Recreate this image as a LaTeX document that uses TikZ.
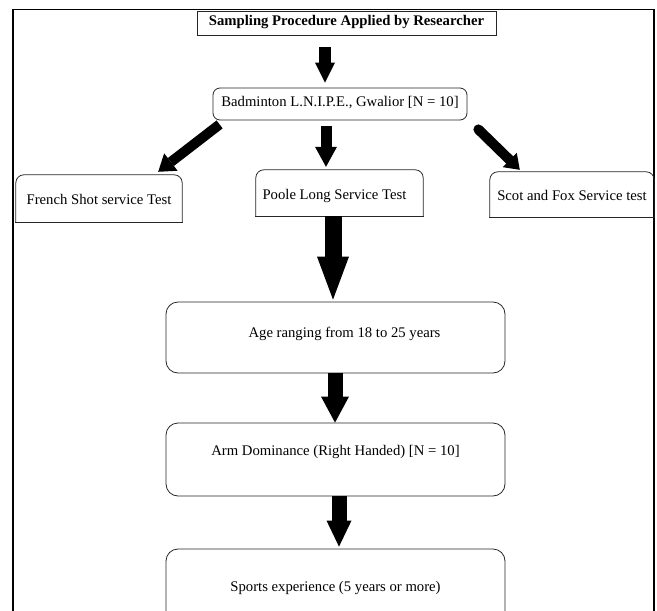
\documentclass[tikz,border=0pt]{standalone}
\usepackage{fontspec}
\setmainfont{Liberation Serif}
\usetikzlibrary{arrows.meta,calc}
\tikzset{
  txt/.style={font=\fontsize{14.7}{17}\selectfont, inner sep=0pt, text height=10pt, text depth=0pt},
  boxline/.style={draw=black!85, line width=0.8pt},
  plainbox/.style={txt, boxline, rectangle},
  roundbox/.style={txt, boxline, rectangle, rounded corners=#1},
  bareshape/.style={txt, rectangle},
  blk/.style n args={3}{line width=#1, -{Triangle[width=#2,length=#3,line width=0pt]}},
}
\newcommand{\topround}[1]{%
  \draw[boxline, line cap=rect] (#1.south west) -- (#1.south east);
  \draw[boxline, rounded corners=8pt] (#1.south west) -- (#1.north west) -- (#1.north east) -- (#1.south east);}
\begin{document}
\begin{tikzpicture}[x=1pt,y=-1pt]
\useasboundingbox (0,0) rectangle (657,611);
% outer frame
\draw[line width=1.3pt] (13,611) -- (13,9.3) -- (654,9.3) -- (654,611);

% nodes
\node[plainbox, minimum width=299pt, minimum height=24pt, text depth=5.7pt] (title) at (346.5,23) {\textbf{Sampling Procedure Applied by Researcher}};
\node[roundbox=7pt, minimum width=254pt, minimum height=32pt, text depth=4.9pt] (bad) at (340,104) {Badminton L.N.I.P.E., Gwalior [N = 10]};
\node[bareshape, minimum width=166pt, minimum height=47pt, text height=12.7pt] (french) at (99,198.5) {French Shot service Test};
\node[bareshape, minimum width=167pt, minimum height=46pt, text height=13.7pt] (poole) at (339.5,193) {Poole Long Service Test\hspace*{10pt}};
\node[bareshape, minimum width=164pt, minimum height=45pt, text height=12.7pt] (scot) at (572,194.5) {Scot and Fox Service test};
\node[roundbox=12pt, minimum width=339pt, minimum height=71pt, text depth=9.9pt] (age) at (335.5,337.5) {\hspace*{18pt}Age ranging from 18 to 25 years};
\node[roundbox=12pt, minimum width=339pt, minimum height=73pt, text depth=17.3pt] (arm) at (335.5,459.5) {Arm Dominance (Right Handed) [N = 10]};
\node[roundbox=12pt, minimum width=339pt, minimum height=76pt, text depth=0.3pt] (sports) at (335.5,587) {Sports experience (5 years or more)};

\topround{french}
\topround{poole}
\topround{scot}

% block arrows
\draw[blk={12pt}{20pt}{20pt}] ([xshift=-21.5pt,yshift=-12pt]title.south) -- ([xshift=-15pt,yshift=5pt]bad.north);
\draw[blk={11pt}{22pt}{20pt}] ([xshift=-14pt,yshift=-6pt]bad.south) -- ([xshift=-13.5pt,yshift=3pt]poole.north);
\draw[blk={10pt}{22pt}{16pt}] ([xshift=7pt,yshift=-4pt]bad.south west) -- ([xshift=-24pt,yshift=3pt]french.north east);
\draw[blk={10pt}{20pt}{14pt}, line cap=round] ([xshift=11pt,yshift=-9pt]bad.south east) -- ([xshift=30pt,yshift=2pt]scot.north west);
\draw[blk={17pt}{32pt}{43pt}] ([xshift=-6.5pt]poole.south) -- ([xshift=-2.5pt,yshift=2pt]age.north);
\draw[blk={15pt}{28pt}{26pt}] ([xshift=-0.5pt]age.south) -- ([xshift=-0.5pt]arm.north);
\draw[blk={15pt}{25pt}{26pt}] ([xshift=3.5pt]arm.south) -- ([xshift=3.5pt,yshift=2pt]sports.north);
\end{tikzpicture}
\end{document}
